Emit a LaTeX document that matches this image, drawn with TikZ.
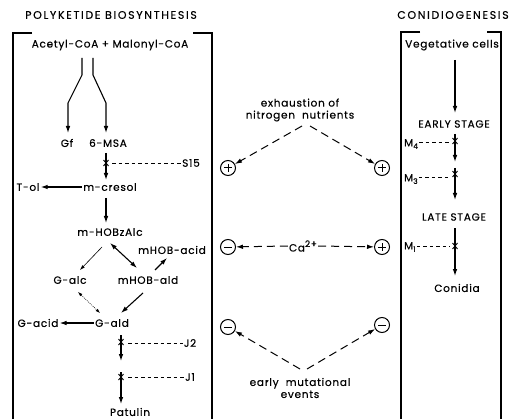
\documentclass[tikz,border=0pt]{standalone}
\usepackage{fontspec}
\setmainfont{Poppins}[LetterSpace=7, FakeBold=0.4]
\newfontfamily\ttlfont{Poppins}[LetterSpace=15, FakeBold=0.3]
\usetikzlibrary{arrows.meta}
\newcommand\subn[1]{\raisebox{-2.5pt}{\fontsize{7.5}{8}\selectfont #1}}
\begin{document}
\begin{tikzpicture}[x=1pt,y=-1pt,
  lbl/.style={inner sep=1pt, font=\fontsize{10.5}{12}\selectfont},
  ttl/.style={inner sep=1pt, font=\ttlfont\fontsize{11}{12}\selectfont},
  frame/.style={line width=1.1pt},
  arr/.style={-{Latex[length=7pt,width=4.6pt]}, line width=1.1pt},
  thinarr/.style={-{Latex[length=5pt,width=3.4pt]}, line width=0.6pt},
  dblarr/.style={{Latex[length=7pt,width=4.6pt]}-{Latex[length=7pt,width=4.6pt]}, line width=1.1pt},
  dotarr/.style={{Latex[length=4.5pt,width=3pt]}-{Latex[length=4.5pt,width=3pt]}, line width=0.5pt, dash pattern=on 1pt off 1pt},
  shortdash/.style={line width=0.9pt, dash pattern=on 3.5pt off 3pt},
  longdash/.style={-{Latex[length=7pt,width=4.6pt]}, line width=1pt, dash pattern=on 8pt off 5pt},
  sgn/.style={circle, draw, line width=1pt, minimum size=15pt, inner sep=0pt},
  xmk/.style={line width=0.9pt}
]
\useasboundingbox (0,0) rectangle (510,419);

% frames
\draw[frame] (32,33) -- (13,33) -- (13,419);
\draw[frame] (193,33) -- (212,33) -- (212,419);
\draw[frame] (420,32) -- (401,32) -- (401,419);
\draw[frame] (487,32) -- (501,32) -- (501,419);

% titles
\node[ttl] (tpk) at (111,15) {POLYKETIDE BIOSYNTHESIS};
\node[ttl] (tcon) at (453,15) {CONIDIOGENESIS};

% left column nodes
\node[lbl] (acoa) at (110,45) {Acetyl-CoA + Malonyl-CoA};
\node[lbl] (gf) at (67,143) {Gf};
\node[lbl] (msa) at (108,143) {6-MSA};
\node[lbl] (s15) at (191,163) {S15};
\node[lbl] (mcr) at (110,187) {m-cresol};
\node[lbl] (tol) at (28,187) {T-ol};
\node[lbl] (hba) at (110,232) {m-HOBzAlc};
\node[lbl] (hacid) at (172,250) {mHOB-acid};
\node[lbl] (galc) at (70,280) {G-alc};
\node[lbl] (hald) at (148,280) {mHOB-ald};
\node[lbl] (gald) at (112,323) {G-ald};
\node[lbl] (gacid) at (38,323) {G-acid};
\node[lbl] (j2) at (190,343) {J2};
\node[lbl] (j1) at (190,377) {J1};
\node[lbl] (pat) at (130,412) {Patulin};

% acetyl split
\coordinate (a1) at (82,58); \coordinate (a2) at (82,75); \coordinate (a3) at (68,103); \coordinate (a4) at (68,133);
\coordinate (b1) at (93,58); \coordinate (b2) at (93,75); \coordinate (b3) at (106,103); \coordinate (b4) at (106,133);
\draw[arr] (a1) -- (a2) -- (a3) -- (a4);
\draw[arr] (b1) -- (b2) -- (b3) -- (b4);

% 6-MSA -> m-cresol
\coordinate (c1) at (106,153); \coordinate (c2) at (106,180); \coordinate (cx) at (106,163);
\draw[arr] (c1) -- (c2);
\draw[xmk] (cx) +(-2.5,-3) -- +(2.5,3) +(-2.5,3) -- +(2.5,-3);
\draw[shortdash] (112,163) -- (s15.west);

% m-cresol -> T-ol
\draw[arr] (mcr.west) -- (tol.east);
% m-cresol -> m-HOBzAlc
\coordinate (d1) at (106,198); \coordinate (d2) at (106,223);
\draw[arr] (d1) -- (d2);

% branches
\coordinate (e1) at (102,247); \coordinate (e2) at (80,270);
\draw[thinarr] (e1) -- (e2);
\coordinate (f1) at (110,243); \coordinate (f2) at (137,268);
\draw[dblarr] (f1) -- (f2);
\coordinate (g1) at (155,270); \coordinate (g2) at (167,258);
\draw[arr] (g1) -- (g2);
\coordinate (h1) at (78,292); \coordinate (h2) at (100,313);
\draw[dotarr] (h1) -- (h2);
\coordinate (k1) at (143,293); \coordinate (k2) at (121,313);
\draw[arr] (k1) -- (k2);
\draw[arr] (gald.west) -- (gacid.east);

% G-ald -> J2 -> J1 -> Patulin
\coordinate (m1) at (121,335); \coordinate (m2) at (121,361); \coordinate (mx) at (121,342);
\draw[arr] (m1) -- (m2);
\draw[xmk] (mx) +(-2.5,-3) -- +(2.5,3) +(-2.5,3) -- +(2.5,-3);
\draw[shortdash] (128,343) -- (j2.west);
\coordinate (n1) at (121,372); \coordinate (n2) at (121,404); \coordinate (nx) at (121,377);
\draw[arr] (n1) -- (n2);
\draw[xmk] (nx) +(-2.5,-3) -- +(2.5,3) +(-2.5,3) -- +(2.5,-3);
\draw[shortdash] (128,377) -- (j1.west);

% middle column
\node[lbl, align=center] (exh) at (300,110) {exhaustion of\\nitrogen\ \ nutrients};
\node[lbl, align=center] (emu) at (300,388) {early\ \ mutational\\events};
\node[lbl] (ca) at (303,246) {Ca\raisebox{4.5pt}{\fontsize{9}{10}\selectfont 2+}};

\node[sgn] (pL) at (228,168) {};
\node[sgn] (pR) at (382,168) {};
\node[sgn] (mL) at (228,247) {};
\node[sgn] (pR2) at (382,247) {};
\node[sgn] (mL2) at (228,327) {};
\node[sgn] (mR2) at (382,325) {};
\foreach \s in {pL,pR,mL,pR2,mL2,mR2} {\draw[line width=1pt] (\s.center) +(-4,0) -- +(4,0);}
\foreach \s in {pL,pR,pR2} {\draw[line width=1pt] (\s.center) +(0,-4) -- +(0,4);}

\coordinate (x1) at (302,126); \coordinate (x2) at (310,126);
\draw[longdash] (x1) -- (pL);
\draw[longdash] (x2) -- (pR);
\draw[longdash] (ca.west) -- (mL);
\draw[longdash] (ca.east) -- (pR2);
\coordinate (y1) at (300,369); \coordinate (y2) at (307,369);
\draw[longdash] (y1) -- (mL2);
\draw[longdash] (y2) -- (mR2);

% right column
\node[lbl] (veg) at (452,45) {Vegetative cells};
\node[lbl] (es) at (454,124) {EARLY STAGE};
\node[lbl, anchor=west] (m4) at (403,144) {M\subn{4}};
\node[lbl, anchor=west] (m3) at (403,179) {M\subn{3}};
\node[lbl] (ls) at (454,217) {LATE STAGE};
\node[lbl, anchor=west] (m1) at (403,247) {M\subn{1}};
\node[lbl] (con) at (457,288) {Conidia};

\coordinate (r1) at (455,60); \coordinate (r2) at (455,113);
\draw[arr] (r1) -- (r2);
\coordinate (s1) at (455,134); \coordinate (s2) at (455,162); \coordinate (sx) at (455,141);
\draw[arr] (s1) -- (s2);
\draw[xmk] (sx) +(-2.5,-3) -- +(2.5,3) +(-2.5,3) -- +(2.5,-3);
\coordinate (m4d) at (450,142);
\draw[shortdash] (m4.east |- m4d) -- (m4d);
\coordinate (t1) at (455,168); \coordinate (t2) at (455,200); \coordinate (tx) at (455,174);
\draw[arr] (t1) -- (t2);
\draw[xmk] (tx) +(-2.5,-3) -- +(2.5,3) +(-2.5,3) -- +(2.5,-3);
\coordinate (m3d) at (450,177);
\draw[shortdash] (m3.east |- m3d) -- (m3d);
\coordinate (u1) at (455,228); \coordinate (u2) at (455,276); \coordinate (ux) at (455,246);
\draw[arr] (u1) -- (u2);
\draw[xmk] (ux) +(-2.5,-3) -- +(2.5,3) +(-2.5,3) -- +(2.5,-3);
\coordinate (m1d) at (450,246);
\draw[shortdash] (m1.east |- m1d) -- (m1d);
\end{tikzpicture}
\end{document}
